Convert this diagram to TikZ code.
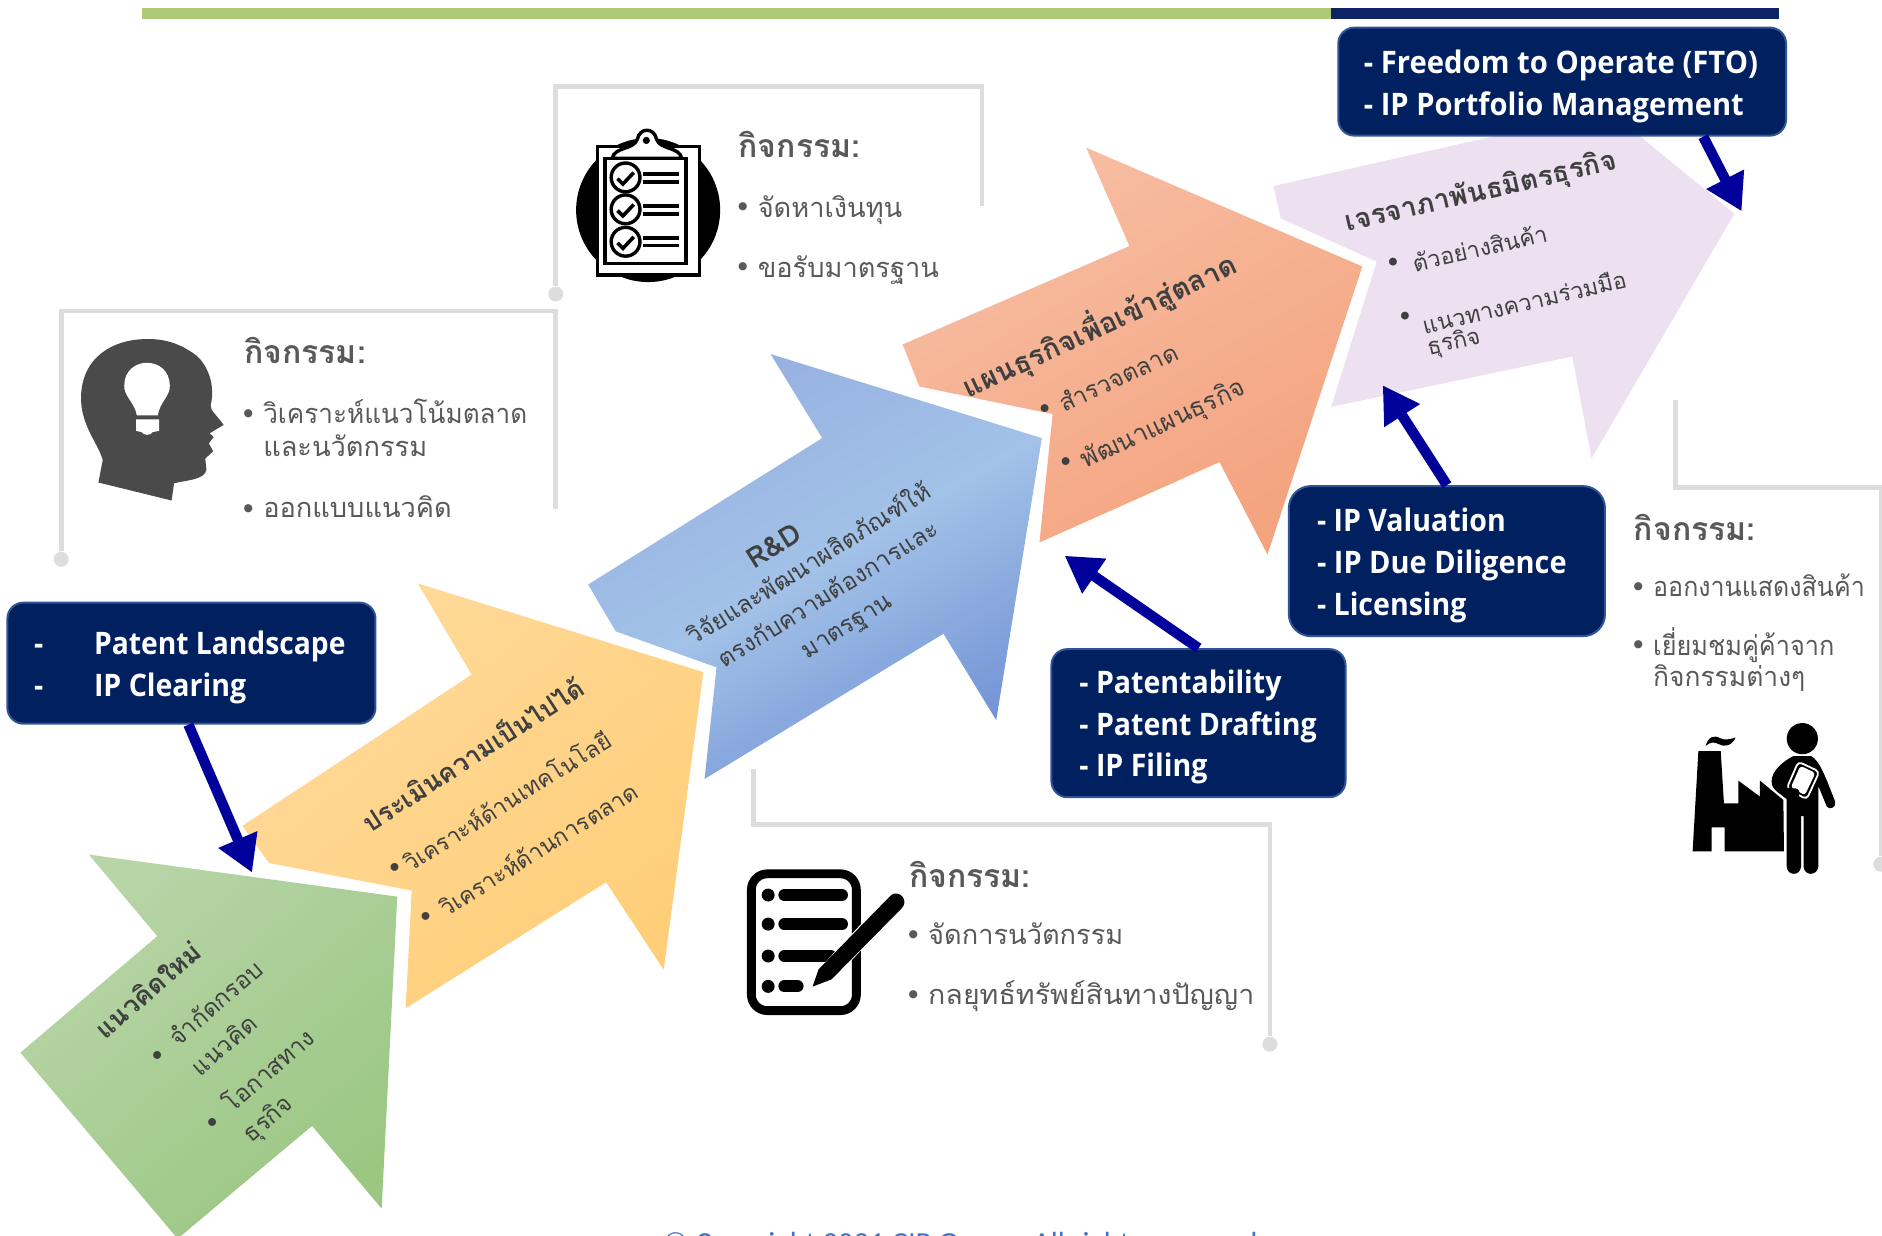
\documentclass[tikz,border=0pt]{standalone}
\usepackage{fontspec}
\usepackage{graphicx}
\usetikzlibrary{arrows.meta}
\setmainfont[Script=Thai]{Loma}
\newfontfamily\boxfont[FakeStretch=0.92]{Open Sans}
\newfontfamily\copyfont{Carlito}
\newcommand{\sxx}[2]{\scalebox{#1}[1]{#2}}
\definecolor{txtgray}{HTML}{595959}
\definecolor{txtdark}{HTML}{404040}
\definecolor{brk}{HTML}{DDDDDD}
\definecolor{navybox}{HTML}{002060}
\definecolor{navyedge}{HTML}{2F5597}
\definecolor{arrowblue}{HTML}{00009A}
\definecolor{iconblack}{HTML}{000000}
\definecolor{headgray}{HTML}{4A4A4A}
\tikzset{
  bracket/.style={draw=brk,line width=2.3pt},
  bdot/.style={circle,fill=brk,inner sep=0pt,minimum size=7.5pt},
  infobox/.style={draw=navyedge,line width=1pt,fill=navybox,rounded corners=8pt,inner sep=0pt},
  boxline/.style={text=white,anchor=base west,inner sep=0pt,font=\boxfont\bfseries\fontsize{15.5}{18}\selectfont},
  up/.style={-{Triangle[length=18pt,width=20pt]},draw=arrowblue,line width=5.2pt},
  acttitle/.style={text=txtgray,anchor=base west,inner sep=0pt,font=\bfseries\fontsize{16}{18}\selectfont},
  actline/.style={text=txtgray,anchor=base west,inner sep=0pt,font=\fontsize{13.6}{16}\selectfont},
  actbul/.style={text=txtgray,inner sep=0pt,font=\fontsize{12}{16}\selectfont},
  rt/.style={text=txtdark,inner sep=0pt,font=\fontsize{11.5}{14}\selectfont},
  rb/.style={text=txtdark,inner sep=0pt,font=\bfseries\fontsize{13}{14}\selectfont},
  bl/.style={anchor=base,yshift=-4.2pt},
  bigarrow/.style={draw=none},
}
\begin{document}
\begin{tikzpicture}[x=0.6pt,y=-0.6pt]
\useasboundingbox (0,0) rectangle (1568,1029);
\clip (0,0) rectangle (1568,1029);

% top bar
\fill[color={rgb,255:red,174;green,201;blue,119}] (118,7) rectangle (1109,16);
\fill[color={rgb,255:red,14;green,35;blue,100}] (1109,7) rectangle (1482,16);

% big arrows
\path[bigarrow,top color={rgb,255:red,184;green,213;blue,168},bottom color={rgb,255:red,155;green,199;blue,131},shading angle=40]
  (74,712) -- (131,780) -- (17,877) -- (148,1032) -- (260,938) -- (318,1007) -- (331,747) -- cycle;
\path[bigarrow,top color={rgb,255:red,255;green,218;blue,155},bottom color={rgb,255:red,255;green,206;blue,120},shading angle=40]
  (202,688) -- (393,562) -- (348,486) -- (586,560) -- (553,808) -- (505,735) -- (338,840) -- (343,742) -- (224,719) -- cycle;
\path[bigarrow,top color={rgb,255:red,150;green,176;blue,224},bottom color={rgb,255:red,116;green,148;blue,214},middle color={rgb,255:red,162;green,194;blue,232},shading angle=30]
  (490,487) -- (685,365) -- (642,295) -- (868,365) -- (830,600) -- (786,528) -- (587,649) -- (597,556) -- (513,526) -- cycle;
\path[bigarrow,top color={rgb,255:red,247;green,190;blue,163},bottom color={rgb,255:red,244;green,163;blue,127},shading angle=30]
  (752,287) -- (941,205) -- (905,123) -- (1135,222) -- (1056,462) -- (1016,385) -- (866,452) -- (877,345) -- (766,322) -- cycle;
\path[bigarrow,fill={rgb,255:red,236;green,224;blue,241}]
  (1061,155) -- (1340,92) -- (1445,178) -- (1326,382) -- (1310,297) -- (1109,339) -- (1147,218) -- (1067,182) -- cycle;

% brackets
\node[bdot] (d1) at (51,466) {};
\coordinate (b1a) at (51,259); \coordinate (b1b) at (463,259); \coordinate (b1c) at (463,424);
\draw[bracket] (d1) -- (b1a) -- (b1b) -- (b1c);
\node[bdot] (d2) at (463,245) {};
\coordinate (b2a) at (463,72); \coordinate (b2b) at (818,72); \coordinate (b2c) at (818,172);
\draw[bracket] (d2) -- (b2a) -- (b2b) -- (b2c);
\node[bdot] (d3) at (1058,870) {};
\coordinate (b3a) at (628,641); \coordinate (b3b) at (628,687); \coordinate (b3c) at (1058,687);
\draw[bracket] (b3a) -- (b3b) -- (b3c) -- (d3);
\node[bdot] (d4) at (1567,720) {};
\coordinate (b4a) at (1396,333); \coordinate (b4b) at (1396,406); \coordinate (b4c) at (1567,406);
\draw[bracket] (b4a) -- (b4b) -- (b4c) -- (d4);

% head icon
\fill[headgray] (120.4,282.5) .. controls (95,283) and (67,297) .. (67.5,333)
  .. controls (68,355) and (82,370) .. (85.6,383.3) -- (82,402) -- (143,417) -- (145,402.7)
  .. controls (155,400) and (170,400) .. (172,391.6) -- (171,382) -- (177.6,376) -- (174,369.4) -- (178,364) -- (174.7,361) -- (186.3,354)
  .. controls (180,345) and (175,342) .. (175.5,337.5) .. controls (180,320) and (172,302) .. (162,295)
  .. controls (148,285) and (135,282) .. (120.4,282.5) -- cycle;
\fill[white] (114,346) .. controls (112,335) and (103,330) .. (103.5,321)
  .. controls (104,296) and (141,296) .. (141.5,321)
  .. controls (142,330) and (133,335) .. (131.5,346) -- cycle;
\fill[white] (113.4,349.4) -- (132.6,349.4) -- (132.6,359) -- (127,360) .. controls (126,363) and (119,363) .. (118,360) -- (113.4,359) -- cycle;

% clipboard icon
\fill[iconblack] (540,175) circle (60);
\draw[iconblack,line width=1.7pt,fill=white] (497.6,122.2) rectangle (583,229);
\draw[iconblack,line width=1.7pt,fill=white] (510,132) .. controls (512,122) and (528,125) .. (531,116)
  .. controls (533,106) and (545,106) .. (547,116) .. controls (550,125) and (566,122) .. (568,132) -- cycle;
\fill[iconblack] (538.5,117) circle (3);
\draw[iconblack,line width=1.7pt,fill=white] (504,132) rectangle (571.5,219.4);
\foreach \cy/\ly/\lz in {147.8/145/151.6,174.4/171.6/178.3,201.4/198.3/204.7}{
  \draw[iconblack,line width=1.7pt] (521.2,\cy) circle (12);
  \draw[iconblack,line width=1.8pt] (514.5,\cy+1) -- (519,\cy+5.5) -- (528,\cy-4);
  \draw[iconblack,line width=1.7pt] (536,\ly) -- (566,\ly);
  \draw[iconblack,line width=1.7pt] (536,\lz) -- (566,\lz);
}

% notepad icon
\draw[iconblack,line width=4.4pt,rounded corners=8pt] (626,728) rectangle (713.5,842);
\foreach \yy in {745.7,769.9,796.5,821.8}{\fill[iconblack] (640,\yy) circle (5.4);}
\draw[iconblack,line width=6pt,line cap=round] (653.5,745.7) -- (701.5,745.7);
\draw[iconblack,line width=6pt,line cap=round] (653.5,769.9) -- (701.5,769.9);
\draw[iconblack,line width=6pt,line cap=round] (653.5,796.5) -- (692,796.5);
\draw[iconblack,line width=6pt,line cap=round] (653.5,821.8) -- (664.5,821.8);
\draw[white,line width=9pt] (690,810) -- (735,762);
\fill[iconblack] (677,822) -- (682,807.6) -- (742.5,745.7) .. controls (749,741) and (758,750) .. (751,757) -- (692.7,816) -- cycle;

% factory + person icon
\fill[iconblack] (1410.2,709.3) -- (1415,625.7) -- (1433.6,625.7) -- (1436.3,669.3) -- (1448.3,669.3) -- (1448.3,650.4) -- (1466.3,663.7) -- (1466.3,650.4) -- (1485.8,666.5) -- (1486.3,709.3) -- (1436.9,709.3) -- (1436.9,689.3) -- (1426.1,689.3) -- (1426.1,709.3) -- cycle;
\fill[iconblack] (1421,621.5) .. controls (1423,614) and (1428,612) .. (1433,615) .. controls (1437,617) and (1441,616) .. (1446,614.5)
  .. controls (1443,621) and (1437,623) .. (1432,620) .. controls (1428,618) and (1425,618) .. (1421,621.5) -- cycle;
\fill[iconblack] (1501.6,615.4) circle (13);
\fill[iconblack] (1494,630) -- (1509,630) .. controls (1516,634) and (1520,645) .. (1529,668)
  .. controls (1530,673) and (1524,675) .. (1522,672) -- (1515,655) -- (1515,722)
  .. controls (1514,730) and (1503,730) .. (1502.7,722) -- (1502.7,680) -- (1500.5,680) -- (1500.5,722)
  .. controls (1500,730) and (1489,730) .. (1488.6,722) -- (1488.6,666)
  .. controls (1484,661) and (1476,659) .. (1476,651) .. controls (1476,642) and (1486,634) .. (1494,630) -- cycle;
\draw[white,line width=0.9pt,fill=iconblack,rounded corners=2pt] (1498.3,634.6) -- (1515.8,642.9) -- (1505.2,666) -- (1488.6,656.8) -- cycle;
\fill[white,rounded corners=1.5pt] (1500,638) -- (1512.5,644) -- (1503.7,662.5) -- (1492,656) -- cycle;
\fill[iconblack] (1484,656) -- (1497,657) .. controls (1500,658) and (1500,664) .. (1497,665) -- (1486,664) -- cycle;

% activity texts 1
\node[acttitle] (t1) at (203,303) {กิจกรรม:};
\node[actbul] (t1a) at (207,346) {•};
\node[actline] (t1b) at (219,353) {\sxx{0.96}{วิเคราะห์แนวโน้มตลาด}};
\node[actline] (t1c) at (219,380) {และนวัตกรรม};
\node[actbul] (t1d) at (207,425) {•};
\node[actline] (t1e) at (219,431) {ออกแบบแนวคิด};
% 2
\node[acttitle] (t2) at (615,131) {กิจกรรม:};
\node[actbul] (t2a) at (619,174) {•};
\node[actline] (t2b) at (631,181) {จัดหาเงินทุน};
\node[actbul] (t2c) at (619,224) {•};
\node[actline] (t2d) at (631,231) {ขอรับมาตรฐาน};
% 3
\node[acttitle] (t3) at (757,739) {กิจกรรม:};
\node[actbul] (t3a) at (761,780) {•};
\node[actline] (t3b) at (773,787) {จัดการนวัตกรรม};
\node[actbul] (t3c) at (761,830) {•};
\node[actline] (t3d) at (773,837) {\sxx{1.05}{กลยุทธ์ทรัพย์สินทางปัญญา}};
% 4
\node[acttitle] (t4) at (1361,450) {กิจกรรม:};
\node[actbul] (t4a) at (1365,490) {•};
\node[actline] (t4b) at (1377,497) {\sxx{0.92}{ออกงานแสดงสินค้า}};
\node[actbul] (t4c) at (1365,539) {•};
\node[actline] (t4d) at (1377,546) {\sxx{0.93}{เยี่ยมชมคู่ค้าจาก}};
\node[actline] (t4e) at (1377,572) {\sxx{0.97}{กิจกรรมต่างๆ}};

% text on arrows
\node[rb,rotate=41,bl] (g1) at (124,826) {แนวคิดใหม่};
\node[rt,rotate=41] (g2) at (132,880) {•};
\node[rt,rotate=41,bl,font=\fontsize{12}{14}\selectfont] (g3) at (180,836) {จำกัดกรอบ};
\node[rt,rotate=41,bl,font=\fontsize{12}{14}\selectfont] (g4) at (187,871) {แนวคิด};
\node[rt,rotate=41] (g5) at (178,936) {•};
\node[rt,rotate=41,bl,font=\fontsize{12}{14}\selectfont] (g6) at (224,892) {โอกาสทาง};
\node[rt,rotate=41,bl,font=\fontsize{12}{14}\selectfont] (g7) at (223,932) {ธุรกิจ};

\node[rb,rotate=33,bl] (o1) at (395,630) {ประเมินความเป็นไปได้};
\node[rt,rotate=32] (o2) at (330,724) {•};
\node[rt,rotate=32,bl] (o3) at (423,668) {วิเคราะห์ด้านเทคโนโลยี};
\node[rt,rotate=32] (o4) at (356,765) {•};
\node[rt,rotate=32,bl] (o5) at (449,708) {วิเคราะห์ด้านการตลาด};

\node[text=txtdark,inner sep=0pt,rotate=32,font=\bfseries\fontsize{14}{16}\selectfont,bl] (b1) at (645,456) {R\&D};
\node[rt,rotate=32,bl,font=\fontsize{12}{14}\selectfont] (b2) at (674,470) {วิจัยและพัฒนาผลิตภัณฑ์ให้};
\node[rt,rotate=32,bl,font=\fontsize{12}{14}\selectfont] (b3) at (690,495) {ตรงกับความต้องการและ};
\node[rt,rotate=32,bl,font=\fontsize{12}{14}\selectfont] (b4) at (705,521) {มาตรฐาน};

\node[rb,rotate=25,bl,font=\bfseries\fontsize{14.2}{16}\selectfont] (s1) at (917,273) {แผนธุรกิจเพื่อเข้าสู่ตลาด};
\node[rt,rotate=25] (s2) at (871,342) {•};
\node[rt,rotate=25,bl,font=\fontsize{12}{14}\selectfont] (s3) at (932,315) {สำรวจตลาด};
\node[rt,rotate=25] (s4) at (889,386) {•};
\node[rt,rotate=25,bl,font=\fontsize{12.6}{14}\selectfont] (s5) at (969,353) {พัฒนาแผนธุรกิจ};

\node[rb,rotate=13,bl,font=\bfseries\fontsize{13.9}{16}\selectfont] (l1) at (1234,160) {เจรจาภาพันธมิตรธุรกิจ};
\node[rt,rotate=13] (l2) at (1161,220) {•};
\node[rt,rotate=13,bl] (l3) at (1233,207) {ตัวอย่างสินค้า};
\node[rt,rotate=13] (l4) at (1171,265) {•};
\node[rt,rotate=13,bl] (l5) at (1270,252) {แนวทางความร่วมมือ};
\node[rt,rotate=13,bl] (l6) at (1211,284) {ธุรกิจ};

% info boxes
\node[infobox,minimum width=184pt,minimum height=60.5pt] (ba) at (159.5,552.5) {};
\node[boxline] (ba1) at (28,545) {-};
\node[boxline] (ba2) at (78,545) {\sxx{0.99}{Patent Landscape}};
\node[boxline] (ba3) at (28,580) {-};
\node[boxline] (ba4) at (78,580) {IP Clearing};

\node[infobox,minimum width=223.8pt,minimum height=54pt] (bb) at (1301.5,68) {};
\node[boxline] (bb1) at (1136,61) {\sxx{1.025}{- Freedom to Operate (FTO)}};
\node[boxline] (bb2) at (1136,96) {\sxx{1.02}{- IP Portfolio Management}};

\node[infobox,minimum width=158pt,minimum height=75pt,rounded corners=11pt] (bc) at (1205.5,467.5) {};
\node[boxline] (bc1) at (1097,443) {- IP Valuation};
\node[boxline] (bc2) at (1097,478) {\sxx{1.015}{- IP Due Diligence}};
\node[boxline] (bc3) at (1097,513) {- Licensing};

\node[infobox,minimum width=147pt,minimum height=74pt] (bd) at (998.5,602.5) {};
\node[boxline] (bd1) at (899,578) {- Patentability};
\node[boxline] (bd2) at (899,613) {- Patent Drafting};
\node[boxline] (bd3) at (899,647) {- IP Filing};

% connector arrows
\coordinate (ta) at (210,727);
\coordinate (tb) at (1451,176);
\coordinate (tc) at (1152,321);
\coordinate (td) at (887,463);
\draw[up] ([xshift=-1.5pt]ba.south) -- (ta);
\draw[up] ([xshift=70.5pt]bb.south) -- (tb);
\draw[up] (bc.north) -- (tc);
\draw[up] (bd.north) -- (td);

% copyright
\node[anchor=base,inner sep=0pt,text={rgb,255:red,68;green,114;blue,196},font=\copyfont\fontsize{15.3}{18}\selectfont] (cr) at (800,1044) {© Copyright 2021 CIP Group. All rights reserved};
\end{tikzpicture}
\end{document}
